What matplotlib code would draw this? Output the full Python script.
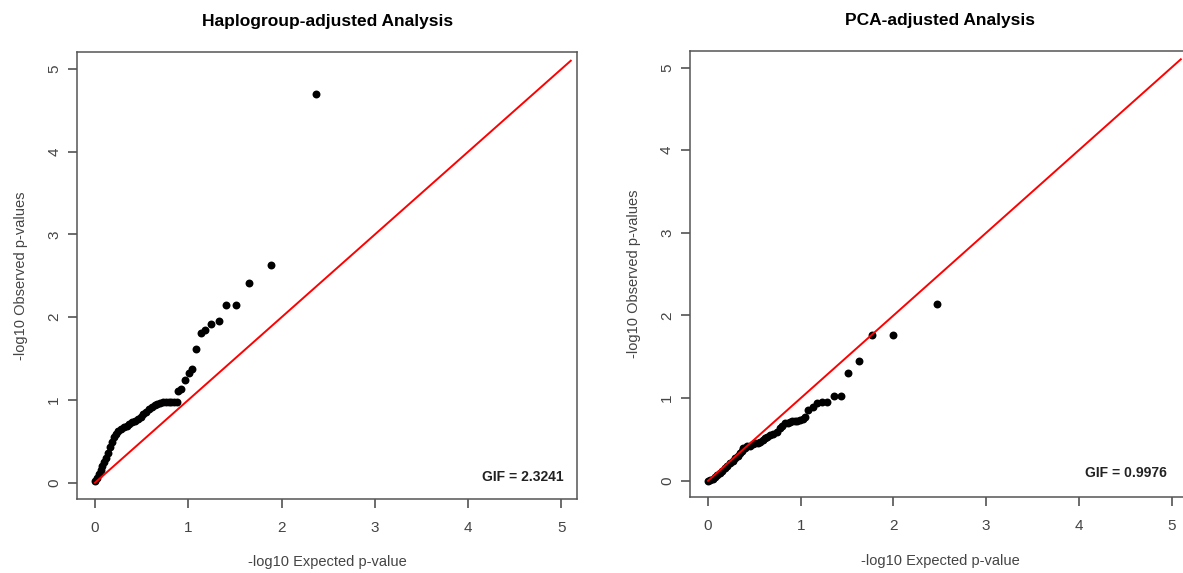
import matplotlib
matplotlib.use("Agg")
import matplotlib.pyplot as plt

plt.rcParams['font.family'] = ['Liberation Sans', 'DejaVu Sans']

# values (-log10 expected, -log10 observed)
hap_expected = [0.00, 0.02, 0.04, 0.06, 0.08, 0.10, 0.12, 0.14, 0.16, 0.18,
                0.20, 0.22, 0.25, 0.28, 0.31, 0.34, 0.37, 0.40, 0.43, 0.46,
                0.49, 0.52, 0.55, 0.58, 0.61, 0.64, 0.67, 0.70, 0.73, 0.76,
                0.79, 0.82, 0.85, 0.88, 0.893, 0.922, 0.961, 1.004, 1.04, 1.086,
                1.136, 1.182, 1.243, 1.326, 1.404, 1.511, 1.654, 1.883, 2.37]
hap_observed = [0.02, 0.06, 0.10, 0.15, 0.20, 0.25, 0.30, 0.36, 0.43, 0.49,
                0.55, 0.59, 0.62, 0.65, 0.67, 0.69, 0.71, 0.73, 0.75, 0.77,
                0.80, 0.83, 0.86, 0.89, 0.92, 0.94, 0.95, 0.96, 0.97, 0.97,
                0.97, 0.97, 0.97, 0.98, 1.11, 1.13, 1.24, 1.32, 1.38, 1.61,
                1.81, 1.84, 1.915, 1.955, 2.15, 2.15, 2.41, 2.63, 4.70]

pca_expected = [0.00, 0.022, 0.05, 0.076, 0.10, 0.129, 0.155, 0.183, 0.21, 0.237,
                0.265, 0.291, 0.32, 0.345, 0.37, 0.38, 0.399, 0.425, 0.453, 0.48,
                0.507, 0.535, 0.561, 0.59, 0.615, 0.64, 0.669, 0.70, 0.741, 0.777,
                0.80, 0.83, 0.86, 0.885, 0.91, 0.938, 0.965, 0.992, 1.02, 1.046,
                1.082, 1.129, 1.172, 1.227, 1.28, 1.36, 1.436, 1.514, 1.632, 1.769,
                2.0, 2.474]
pca_observed = [0.00, 0.008, 0.025, 0.04, 0.065, 0.09, 0.12, 0.15, 0.18, 0.21,
                0.24, 0.27, 0.30, 0.331, 0.36, 0.40, 0.392, 0.42, 0.42, 0.44,
                0.452, 0.46, 0.472, 0.49, 0.513, 0.53, 0.553, 0.57, 0.593, 0.633,
                0.66, 0.694, 0.705, 0.714, 0.72, 0.722, 0.728, 0.734, 0.75, 0.774,
                0.855, 0.895, 0.935, 0.955, 0.955, 1.024, 1.02, 1.306, 1.451, 1.758,
                1.762, 2.137]

line_end = 5.1
ticks = [0, 1, 2, 3, 4, 5]
gray = '#444444'


def qq_panel(ax, expected, observed, title, gif, xlim, ylim):
    ax.plot(expected, observed, 'o', color='black', markersize=5.7, markeredgewidth=0)
    ax.plot([0, line_end], [0, line_end], color='red', linewidth=1.4)
    ax.set_xlim(xlim)
    ax.set_ylim(ylim)
    ax.set_xticks(ticks)
    ax.set_yticks(ticks)
    ax.tick_params(colors=gray, labelsize=11, length=6.5, width=1.1)
    ax.tick_params(axis='x', pad=9)
    ax.tick_params(axis='y', pad=5, labelrotation=90)
    for lab in ax.get_yticklabels():
        lab.set_verticalalignment('center')
    for sp in ax.spines.values():
        sp.set_color('#555555')
        sp.set_linewidth(1.1)
    ax.set_xlabel('-log10 Expected p-value', fontsize=10.5, color=gray, labelpad=15)
    ax.set_ylabel('-log10 Observed p-values', fontsize=10.5, color=gray, labelpad=14)
    ax.set_title(title, fontsize=12.5, fontweight='bold', pad=19)
    ax.text(gif[0], gif[1], gif[2], ha='right', va='center',
            fontsize=10, fontweight='bold', color='#222222')


fig = plt.figure(figsize=(11.83, 5.73), dpi=100)
ax1 = fig.add_axes([0.0653, 0.1291, 0.4227, 0.7794])
ax2 = fig.add_axes([0.5833, 0.1321, 0.4227, 0.7789])

qq_panel(ax1, hap_expected, hap_observed, 'Haplogroup-adjusted Analysis',
         (5.02, 0.07, 'GIF = 2.3241'), (-0.19, 5.17), (-0.197, 5.20))
qq_panel(ax2, pca_expected, pca_observed, 'PCA-adjusted Analysis',
         (4.95, 0.09, 'GIF = 0.9976'), (-0.194, 5.20), (-0.20, 5.20))

fig.savefig('out.png', dpi=100)
